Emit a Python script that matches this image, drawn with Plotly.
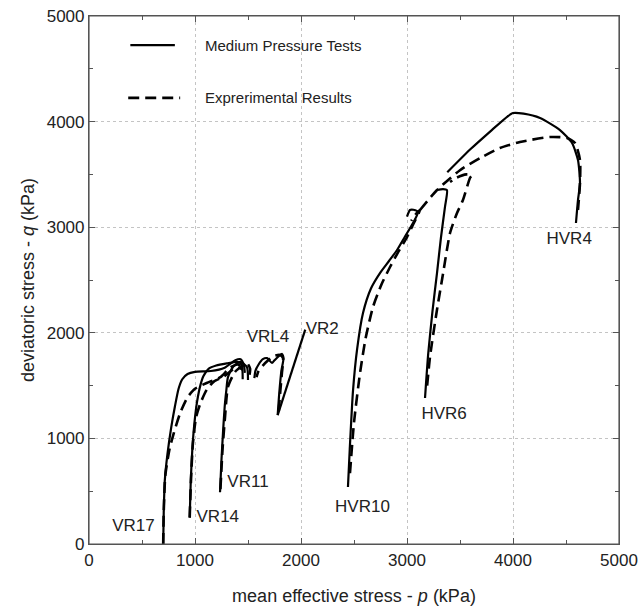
import plotly.graph_objects as go

# ---------------- data (p, q in kPa) ----------------
vr17_sim_p = [700, 705, 715, 740, 775, 810, 845, 880, 930, 1000, 1150, 1280, 1380, 1430, 1460, 1470]
vr17_sim_q = [0, 300, 600, 850, 1100, 1300, 1470, 1560, 1610, 1630, 1638, 1670, 1740, 1750, 1700, 1620]
vr17_exp_p = [700, 705, 720, 760, 800, 860, 930, 1000, 1110, 1240, 1330, 1400, 1450]
vr17_exp_q = [0, 300, 650, 900, 1050, 1240, 1390, 1470, 1525, 1580, 1670, 1700, 1680]

vr14_sim_p = [950, 960, 975, 995, 1020, 1050, 1080, 1130, 1200, 1300, 1400, 1440, 1450]
vr14_sim_q = [250, 600, 900, 1150, 1350, 1500, 1590, 1660, 1690, 1710, 1725, 1700, 1560]
vr14_exp_p = [950, 962, 980, 1010, 1050, 1110, 1180, 1264, 1340, 1400, 1450]
vr14_exp_q = [250, 600, 950, 1200, 1330, 1460, 1540, 1581, 1640, 1676, 1650]

vr11_sim_p = [1236, 1250, 1264, 1280, 1295, 1311, 1358, 1425, 1490, 1500]
vr11_sim_q = [490, 800, 1050, 1300, 1450, 1580, 1676, 1724, 1676, 1553]
vr11_exp_p = [1240, 1260, 1283, 1311, 1377, 1450, 1490, 1520, 1510]
vr11_exp_q = [520, 900, 1200, 1487, 1629, 1690, 1714, 1660, 1580]

vrl4_sim_p = [1780, 1795, 1815, 1835, 1821, 1790, 1750, 1726, 1680, 1640, 1600, 1570, 1560]
vrl4_sim_q = [1220, 1430, 1640, 1760, 1800, 1780, 1740, 1714, 1760, 1750, 1700, 1640, 1570]
vrl4_exp_p = [1790, 1805, 1820, 1830, 1800, 1740, 1690, 1640, 1600, 1580]
vrl4_exp_q = [1260, 1450, 1620, 1760, 1790, 1780, 1740, 1690, 1640, 1580]

vr2_sim_p = [1780, 2040]
vr2_sim_q = [1220, 2030]

hvr10_sim_p = [2443, 2460, 2491, 2530, 2585, 2660, 2745, 2830, 2906, 2980, 3057, 3104, 3060, 3028, 3000]
hvr10_sim_q = [540, 900, 1458, 1850, 2188, 2420, 2566, 2680, 2784, 2910, 3040, 3144, 3165, 3163, 3100]
hvr10_exp_p = [2462, 2500, 2557, 2610, 2679, 2760, 2840, 2920, 3000, 3060, 3123, 3080, 3040]
hvr10_exp_q = [670, 1150, 1619, 1950, 2244, 2460, 2623, 2770, 2907, 3030, 3163, 3120, 3060]

hvr6_sim_p = [3170, 3200, 3240, 3283, 3320, 3358, 3377, 3340, 3283]
hvr6_sim_q = [1383, 1800, 2200, 2566, 2900, 3191, 3352, 3360, 3352]
hvr6_exp_p = [3190, 3217, 3280, 3340, 3406, 3470, 3528, 3594, 3613, 3560, 3470, 3406]
hvr6_exp_q = [1500, 1771, 2200, 2560, 2945, 3130, 3258, 3466, 3494, 3500, 3470, 3428]

hvr4_sim_p = [3380, 3600, 3800, 3950, 4000, 4100, 4255, 4443, 4557, 4613, 4632, 4613, 4594]
hvr4_sim_q = [3520, 3740, 3920, 4050, 4081, 4075, 4034, 3920, 3797, 3636, 3418, 3257, 3040]
hvr4_exp_p = [3123, 3283, 3500, 3700, 3877, 4066, 4349, 4509, 4585, 4632, 4632, 4613]
hvr4_exp_q = [3163, 3352, 3540, 3660, 3750, 3807, 3854, 3845, 3797, 3636, 3418, 3163]

label_text = ["VR17", "VR14", "VR11", "VRL4", "VR2", "HVR10", "HVR6", "HVR4"]
label_p = [420, 1215, 1500, 1689, 2200, 2580, 3350, 4530]
label_q = [161, 246, 578, 1951, 2027, 341, 1222, 2879]

legend_text = ["Medium Pressure Tests", "Exprerimental Results"]

x_ticks = [0, 1000, 2000, 3000, 4000, 5000]
y_ticks = [0, 1000, 2000, 3000, 4000, 5000]

# ---------------- figure ----------------
FONT = "Liberation Sans, Arial, sans-serif"
DASH = "11px,6px"
sim_series = [(vr17_sim_p, vr17_sim_q), (vr14_sim_p, vr14_sim_q), (vr11_sim_p, vr11_sim_q),
              (vrl4_sim_p, vrl4_sim_q), (vr2_sim_p, vr2_sim_q), (hvr10_sim_p, hvr10_sim_q),
              (hvr6_sim_p, hvr6_sim_q), (hvr4_sim_p, hvr4_sim_q)]
exp_series = [(vr17_exp_p, vr17_exp_q), (vr14_exp_p, vr14_exp_q), (vr11_exp_p, vr11_exp_q),
              (vrl4_exp_p, vrl4_exp_q), (hvr10_exp_p, hvr10_exp_q),
              (hvr6_exp_p, hvr6_exp_q), (hvr4_exp_p, hvr4_exp_q)]

fig = go.Figure()
for p, q in sim_series:
    fig.add_trace(go.Scatter(x=p, y=q, mode="lines", line=dict(color="black", width=2.2, shape="spline", smoothing=0.6),
                             showlegend=False, hoverinfo="skip"))
for p, q in exp_series:
    fig.add_trace(go.Scatter(x=p, y=q, mode="lines",
                             line=dict(color="black", width=2.6, dash=DASH, shape="spline", smoothing=0.6),
                             showlegend=False, hoverinfo="skip"))

fig.add_trace(go.Scatter(x=label_p, y=label_q, mode="text", text=label_text,
                         textfont=dict(family=FONT, size=17, color="#222"),
                         showlegend=False, hoverinfo="skip"))

# frame around the plotting area
fig.add_shape(type="rect", xref="paper", yref="paper", x0=0, x1=1, y0=0, y1=1,
              line=dict(color="#555", width=1.2), fillcolor="rgba(0,0,0,0)", layer="above")

# legend drawn manually (paper coordinates)
fig.add_shape(type="line", xref="paper", yref="paper", x0=0.078, x1=0.162, y0=0.945, y1=0.945,
              line=dict(color="black", width=2.2))
fig.add_shape(type="line", xref="paper", yref="paper", x0=0.074, x1=0.172, y0=0.845, y1=0.845,
              line=dict(color="black", width=2.6, dash=DASH))
for txt, yy in zip(legend_text, [0.945, 0.845]):
    fig.add_annotation(xref="paper", yref="paper", x=0.215, y=yy, text=txt, showarrow=False,
                       xanchor="left", yanchor="middle", font=dict(family=FONT, size=15, color="#222"))

axis_common = dict(
    showgrid=True, gridcolor="#c4c4c4", griddash="dot", gridwidth=1,
    zeroline=False, showline=True, linecolor="#555", linewidth=1.2, mirror="allticks",
    ticks="inside", ticklen=6, tickcolor="#555", automargin=False, ticklabeloverflow="allow",
    minor=dict(ticks="inside", ticklen=4, dtick=500, tickcolor="#555", showgrid=False),
    tickfont=dict(family=FONT, size=17, color="#222"),
)
fig.update_xaxes(range=[0, 5000], tickvals=x_ticks, ticktext=[str(v) for v in x_ticks],
                 title=dict(text="mean effective stress - <i>p</i> (kPa)", font=dict(family=FONT, size=18, color="#222"), standoff=20),
                 **axis_common)
fig.update_yaxes(range=[0, 5000], tickvals=y_ticks, ticktext=[str(v) for v in y_ticks],
                 title=dict(text="deviatoric stress - <i>q</i> (kPa)", font=dict(family=FONT, size=18, color="#222"), standoff=7),
                 **axis_common)
fig.update_layout(width=640, height=614, margin=dict(l=89, r=21, t=16, b=70),
                  plot_bgcolor="white", paper_bgcolor="white", showlegend=False)
# remove the default 8px page margin so the figure fills the window exactly
fig.write_html("out.html", config={"displayModeBar": False},
               post_script="document.body.style.margin='0';document.body.style.overflow='hidden';")
